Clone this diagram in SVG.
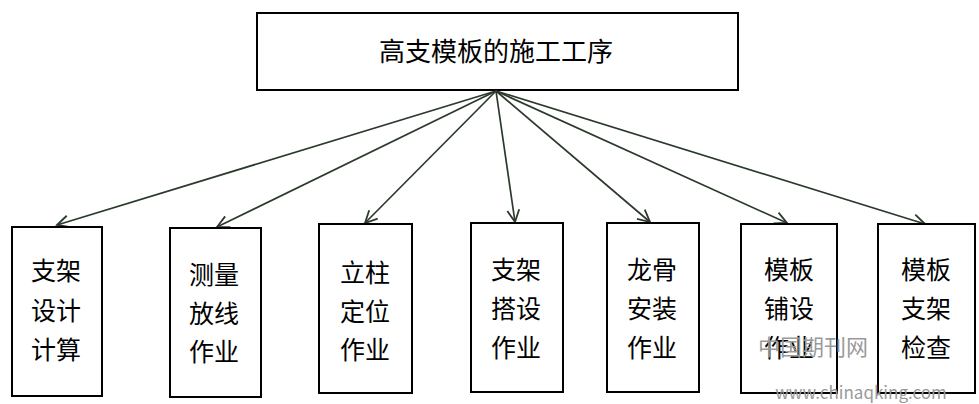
<svg xmlns="http://www.w3.org/2000/svg" width="979" height="404" viewBox="0 0 979 404">
<style>
.box{fill:#fff;stroke:#000;stroke-width:2}
.t{font-family:"Noto Sans CJK SC","Noto Sans",sans-serif;font-size:25px;fill:#000;text-anchor:middle}
.title{font-size:26px}
.c{stroke:#2c3a2c;stroke-width:1.7;fill:none}
.wm{font-family:"Noto Sans CJK SC",sans-serif;fill:#9a9a9a;text-anchor:middle}
</style>
<defs>
<marker id="ah" markerUnits="userSpaceOnUse" markerWidth="16" markerHeight="16" refX="13" refY="7" orient="auto">
<path d="M1,1 L13,7 L1,13" fill="none" stroke="#2c3a2c" stroke-width="1.8"/>
</marker>
</defs>
<rect width="979" height="404" fill="#fff"/>
<g id="root">
<rect class="box" x="257" y="13" width="481" height="77"/>
<text class="t title" x="496" y="61">高支模板的施工工序</text>
</g>
<g id="connectors">
<line class="c" x1="496" y1="91" x2="57" y2="225" marker-end="url(#ah)"/>
<line class="c" x1="496" y1="91" x2="217" y2="227" marker-end="url(#ah)"/>
<line class="c" x1="496" y1="91" x2="365" y2="223" marker-end="url(#ah)"/>
<line class="c" x1="496" y1="91" x2="515" y2="222" marker-end="url(#ah)"/>
<line class="c" x1="496" y1="91" x2="650" y2="222" marker-end="url(#ah)"/>
<line class="c" x1="496" y1="91" x2="787" y2="223" marker-end="url(#ah)"/>
<line class="c" x1="496" y1="91" x2="925" y2="224" marker-end="url(#ah)"/>
</g>
<g id="n1">
<rect class="box" x="12" y="227" width="90" height="169"/>
<text class="t" x="56" y="280">支架</text>
<text class="t" x="56" y="320">设计</text>
<text class="t" x="56" y="359">计算</text>
</g>
<g id="n2">
<rect class="box" x="170" y="228" width="91" height="169"/>
<text class="t" x="214" y="284">测量</text>
<text class="t" x="214" y="323">放线</text>
<text class="t" x="214" y="361">作业</text>
</g>
<g id="n3">
<rect class="box" x="319" y="224" width="93" height="169"/>
<text class="t" x="365" y="282">立柱</text>
<text class="t" x="365" y="321">定位</text>
<text class="t" x="365" y="359">作业</text>
</g>
<g id="n4">
<rect class="box" x="471" y="223" width="92" height="169"/>
<text class="t" x="516" y="279">支架</text>
<text class="t" x="516" y="318">搭设</text>
<text class="t" x="516" y="357">作业</text>
</g>
<g id="n5">
<rect class="box" x="607" y="223" width="92" height="169"/>
<text class="t" x="652" y="279">龙骨</text>
<text class="t" x="652" y="318">安装</text>
<text class="t" x="652" y="357">作业</text>
</g>
<g id="n6">
<rect class="box" x="741" y="224" width="96" height="169"/>
<text class="t" x="789" y="279">模板</text>
<text class="t" x="789" y="318">铺设</text>
<text class="t" x="789" y="357">作业</text>
</g>
<g id="n7">
<rect class="box" x="878" y="224" width="97" height="169"/>
<text class="t" x="926" y="279">模板</text>
<text class="t" x="926" y="318">支架</text>
<text class="t" x="926" y="357">检查</text>
</g>
<g id="watermark">
<text class="wm" x="813" y="355" font-size="22" font-family="'Noto Serif CJK SC','Noto Sans CJK SC',serif">中国期刊网</text>
<text class="wm" x="861" y="399" font-size="17" font-family="'DejaVu Sans',sans-serif">www.chinaqking.com</text>
</g>
</svg>
